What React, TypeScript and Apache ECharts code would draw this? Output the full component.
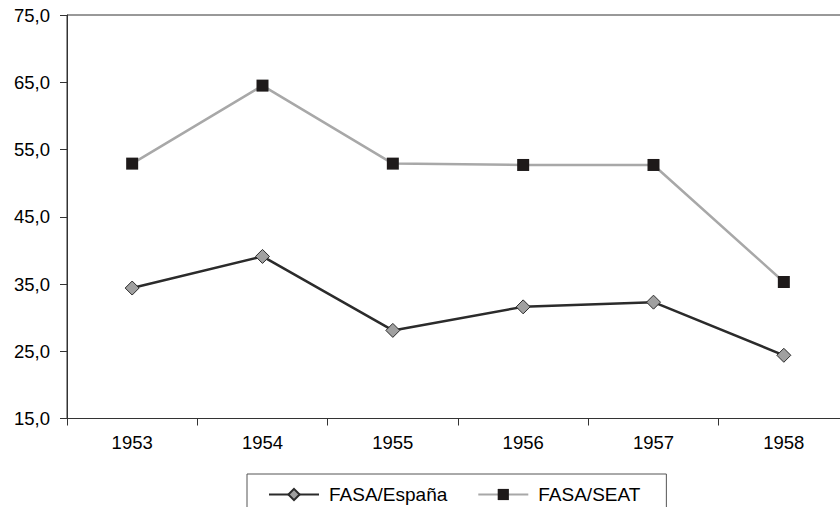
import React, { useEffect, useRef } from "react";
import * as echarts from "echarts";

const years = ["1953", "1954", "1955", "1956", "1957", "1958"];
const fasaEspana = [34.4, 39.1, 28.1, 31.6, 32.3, 24.4];
const fasaSeat = [52.9, 64.5, 52.9, 52.7, 52.7, 35.3];
const yMin = 15;
const yMax = 75;
const yStep = 10;

export default function App() {
  const ref = useRef<HTMLDivElement>(null);
  useEffect(() => {
    if (!ref.current) return;
    const chart = echarts.init(ref.current, null, { renderer: "svg" });
    const font = "'Liberation Sans', Arial, sans-serif";
    chart.setOption({
      animation: false,
      backgroundColor: "#ffffff",
      grid: {
        left: 67,
        top: 15,
        width: 782,
        height: 403.5,
        show: true,
        borderColor: "#333333",
        borderWidth: 1,
        backgroundColor: "transparent",
      },
      xAxis: {
        type: "category",
        data: years,
        boundaryGap: true,
        axisLine: { show: true, lineStyle: { color: "#333333", width: 1 } },
        axisTick: { show: true, length: 7, lineStyle: { color: "#333333" } },
        axisLabel: { color: "#000000", fontSize: 18.5, fontFamily: font, margin: 14 },
        splitLine: { show: false },
      },
      yAxis: {
        type: "value",
        min: yMin,
        max: yMax,
        interval: yStep,
        axisLine: { show: true, lineStyle: { color: "#333333", width: 1 } },
        axisTick: { show: true, length: 7, lineStyle: { color: "#333333" } },
        axisLabel: {
          color: "#000000",
          fontSize: 18.5,
          fontFamily: font,
          margin: 17,
          formatter: (v: number) => v.toFixed(1).replace(".", ","),
        },
        splitLine: { show: false },
      },
      legend: {
        left: 247,
        top: 474,
        padding: [11, 26, 20, 21],
        borderColor: "#555555",
        borderWidth: 1,
        itemWidth: 50,
        itemHeight: 14,
        itemGap: 30,
        textStyle: { color: "#000000", fontSize: 19, fontFamily: font, padding: [0, 0, 0, 5] },
        data: ["FASA/España", "FASA/SEAT"],
      },
      series: [
        {
          name: "FASA/España",
          type: "line",
          data: fasaEspana,
          symbol: "diamond",
          symbolSize: 14,
          lineStyle: { color: "#2b2b2b", width: 2.5 },
          itemStyle: { color: "#a0a0a0", borderColor: "#2b2b2b", borderWidth: 1 },
        },
        {
          name: "FASA/SEAT",
          type: "line",
          data: fasaSeat,
          symbol: "rect",
          symbolSize: 12,
          lineStyle: { color: "#a8a8a8", width: 2.5 },
          itemStyle: { color: "#1e1a1a", borderColor: "#1e1a1a", borderWidth: 0 },
        },
      ],
    });
    return () => chart.dispose();
  }, []);
  return (
    <div
      style={{
        position: "fixed",
        left: 0,
        top: 0,
        width: 840,
        height: 507,
        overflow: "hidden",
        background: "#fff",
      }}
    >
      <div ref={ref} style={{ width: 870, height: 507 }} />
    </div>
  );
}
